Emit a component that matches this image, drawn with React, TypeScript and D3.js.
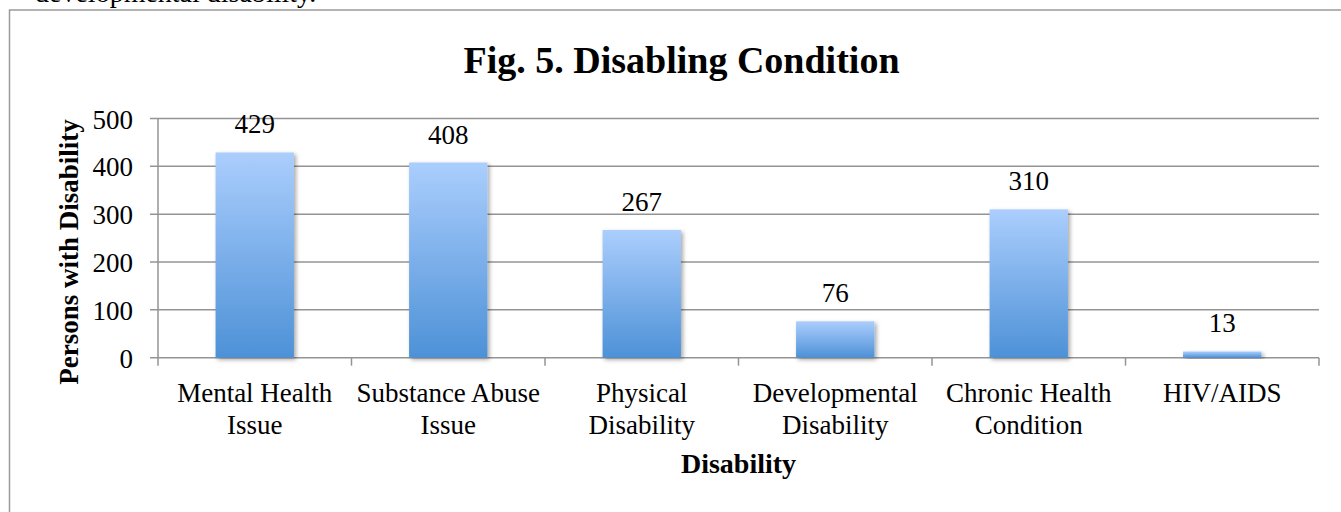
import React from 'react';
import * as d3 from 'd3';

const categories = [
  'Mental Health Issue',
  'Substance Abuse Issue',
  'Physical Disability',
  'Developmental Disability',
  'Chronic Health Condition',
  'HIV/AIDS',
];
const categoryLines = [
  ['Mental Health', 'Issue'],
  ['Substance Abuse', 'Issue'],
  ['Physical', 'Disability'],
  ['Developmental', 'Disability'],
  ['Chronic Health', 'Condition'],
  ['HIV/AIDS'],
];
const persons = [429, 408, 267, 76, 310, 13];
const yTicks = [0, 100, 200, 300, 400, 500];

const W = 1341;
const H = 512;
const serif = '"Liberation Serif", "Times New Roman", serif';

export default function App() {
  const margin = { top: 118.5, right: 22, bottom: 154.3, left: 158 };
  const plotW = W - margin.left - margin.right;
  const plotH = H - margin.top - margin.bottom;

  const x = d3.scaleBand<string>().domain(categories).range([0, plotW]).padding(0);
  const y = d3.scaleLinear().domain([0, 500]).range([plotH, 0]);
  const barW = x.bandwidth() * 0.405;
  const grid = '#949494';

  return (
    <div style={{ position: 'absolute', left: 0, top: 0 }}>
      <svg width={W} height={H} style={{ display: 'block', background: '#fff' }}>
        <defs>
          <linearGradient id="barFill" x1="0" y1="0" x2="0" y2="1">
            <stop offset="0%" stopColor="#abcefd" />
            <stop offset="100%" stopColor="#4d91d7" />
          </linearGradient>
          <filter id="shadow" x="-20%" y="-20%" width="140%" height="140%">
            <feDropShadow dx="2" dy="2" stdDeviation="2" floodColor="#000" floodOpacity="0.35" />
          </filter>
        </defs>

        {/* text of the page above the chart, cut by the crop as in the source */}
        <text x={35} y={2} fontFamily={serif} fontSize={28} fill="#000">
          developmental disability.
        </text>

        {/* chart frame */}
        <rect x={9.5} y={10} width={1400} height={600} fill="none" stroke="#9a9a9a" strokeWidth={1.5} />

        <text x={681.5} y={73} textAnchor="middle" fontFamily={serif} fontWeight="bold" fontSize={38}>
          Fig. 5. Disabling Condition
        </text>

        <g transform={`translate(${margin.left},${margin.top})`}>
          {yTicks.map((t) => (
            <g key={t}>
              <line x1={-8} x2={plotW} y1={y(t)} y2={y(t)} stroke={grid} strokeWidth={1.5} />
              <text x={-25} y={y(t) + 10} textAnchor="end" fontFamily={serif} fontSize={27}>
                {t}
              </text>
            </g>
          ))}
          <line x1={0} x2={0} y1={0} y2={plotH + 8} stroke={grid} strokeWidth={1.5} />
          {categories.map((c) => (
            <line key={c} x1={x(c)! + x.bandwidth()} x2={x(c)! + x.bandwidth()} y1={plotH} y2={plotH + 8} stroke={grid} strokeWidth={1.5} />
          ))}

          {categories.map((c, i) => {
            const cx = x(c)! + x.bandwidth() / 2;
            return (
              <g key={c}>
                <rect
                  x={cx - barW / 2}
                  y={y(persons[i])}
                  width={barW}
                  height={plotH - y(persons[i])}
                  fill="url(#barFill)"
                  filter="url(#shadow)"
                />
                <text x={cx} y={y(persons[i]) - 19} textAnchor="middle" fontFamily={serif} fontSize={27}>
                  {persons[i]}
                </text>
                {categoryLines[i].map((line, j) => (
                  <text key={j} x={cx} y={plotH + 44 + j * 32.5} textAnchor="middle" fontFamily={serif} fontSize={27}>
                    {line}
                  </text>
                ))}
              </g>
            );
          })}

          <text x={plotW / 2} y={plotH + 115} textAnchor="middle" fontFamily={serif} fontWeight="bold" fontSize={28}>
            Disability
          </text>
        </g>

        <text
          transform={`translate(78,252) rotate(-90)`}
          textAnchor="middle"
          fontFamily={serif}
          fontWeight="bold"
          fontSize={27}
        >
          Persons with Disability
        </text>
      </svg>
    </div>
  );
}
